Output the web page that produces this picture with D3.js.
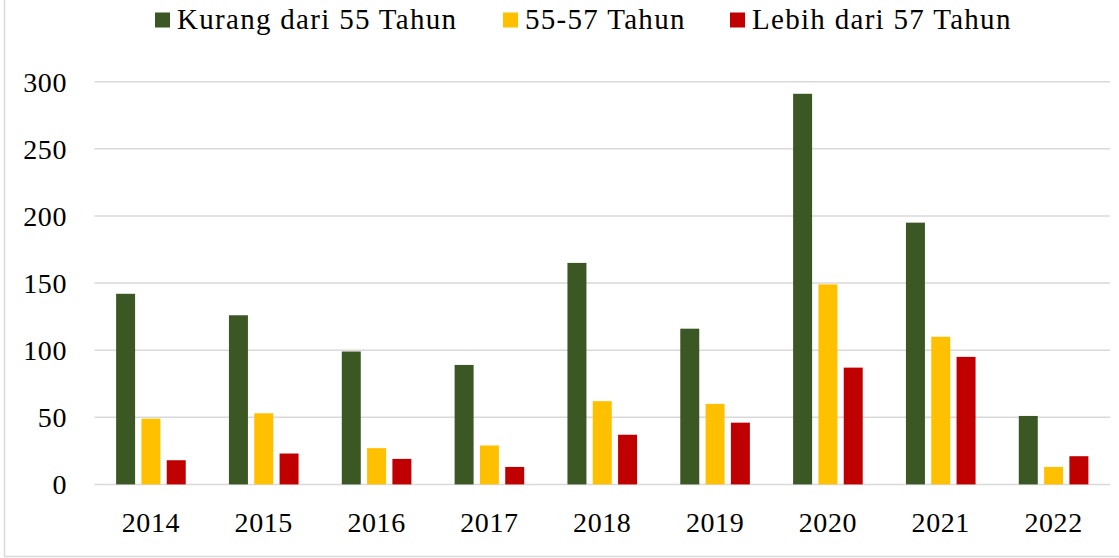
<!DOCTYPE html>
<html>
<head>
<meta charset="utf-8">
<script src="https://cdn.jsdelivr.net/npm/d3@7"></script>
<style>
  body { margin: 0; background: #fff; }
  svg text { font-family: "Liberation Serif", "Times New Roman", serif; fill: #000; }
</style>
</head>
<body>
<svg id="chart" width="1119" height="558"></svg>
<script>
// data
var years = ["2014", "2015", "2016", "2017", "2018", "2019", "2020", "2021", "2022"];
var seriesNames = ["Kurang dari 55 Tahun", "55-57 Tahun", "Lebih dari 57 Tahun"];
var seriesColors = ["#3b5724", "#ffc000", "#c00000"];
var kurang = [142, 126, 99, 89, 165, 116, 291, 195, 51];
var antara = [49, 53, 27, 29, 62, 60, 149, 110, 13];
var lebih = [18, 23, 19, 13, 37, 46, 87, 95, 21];
var yTicks = [0, 50, 100, 150, 200, 250, 300];

var values = [kurang, antara, lebih];

var svg = d3.select("#chart");

// chart border (only left and bottom edges fall inside the picture)
svg.append("rect")
    .attr("x", 4.5)
    .attr("y", -10)
    .attr("width", 1200)
    .attr("height", 566.5)
    .attr("fill", "none")
    .attr("stroke", "#d9d9d9")
    .attr("stroke-width", 1.5);

var plot = { left: 94.5, right: 1110, top: 81.7, bottom: 484.4 };

var y = d3.scaleLinear().domain([0, 300]).range([plot.bottom, plot.top]);
var x0 = d3.scaleBand().domain(years).range([plot.left, plot.right]);
var x1 = d3.scaleBand().domain(d3.range(3)).range([0, 69.6]).paddingInner(0.25);
var groupOffset = (x0.bandwidth() - 69.6) / 2;

// gridlines
svg.append("g").selectAll("line").data(yTicks).enter().append("line")
    .attr("x1", plot.left)
    .attr("x2", plot.right)
    .attr("y1", function (d) { return y(d); })
    .attr("y2", function (d) { return y(d); })
    .attr("stroke", "#d9d9d9")
    .attr("stroke-width", 1.5);

// y axis labels
var yAxis = d3.axisLeft(y).tickValues(yTicks).tickSize(0).tickPadding(0);
var gy = svg.append("g").attr("transform", "translate(67,0)").call(yAxis);
gy.select(".domain").remove();
gy.selectAll("text")
    .attr("font-size", 28)
    .attr("letter-spacing", 0.6)
    .attr("dy", "0.34em")
    .style("font-family", "Liberation Serif, serif")
    .attr("fill", "#000");

// x axis labels
var xAxis = d3.axisBottom(x0).tickSize(0).tickPadding(0);
var gx = svg.append("g").attr("transform", "translate(0," + plot.bottom + ")").call(xAxis);
gx.select(".domain").remove();
gx.selectAll("text")
    .attr("font-size", 28)
    .attr("letter-spacing", 0.6)
    .attr("y", 48)
    .attr("dy", 0)
    .style("font-family", "Liberation Serif, serif")
    .attr("fill", "#000");

// bars
var groups = svg.append("g").selectAll("g.year").data(years).enter().append("g")
    .attr("class", "year")
    .attr("transform", function (d) { return "translate(" + (x0(d) + groupOffset) + ",0)"; });

groups.selectAll("rect")
    .data(function (d, i) {
        return values.map(function (s, k) { return { k: k, v: s[i] }; });
    })
    .enter().append("rect")
    .attr("x", function (d) { return x1(d.k); })
    .attr("width", x1.bandwidth())
    .attr("y", function (d) { return y(d.v); })
    .attr("height", function (d) { return y(0) - y(d.v); })
    .attr("fill", function (d) { return seriesColors[d.k]; });

// legend
var legendX = [155, 503, 730];
var legend = svg.append("g").selectAll("g").data(seriesNames).enter().append("g")
    .attr("transform", function (d, i) { return "translate(" + legendX[i] + ",12.5)"; });

legend.append("rect")
    .attr("width", 15)
    .attr("height", 15)
    .attr("fill", function (d, i) { return seriesColors[i]; });

legend.append("text")
    .attr("x", 22)
    .attr("y", 16)
    .attr("font-size", 29)
    .attr("letter-spacing", 1.3)
    .text(function (d) { return d; });
</script>
</body>
</html>
